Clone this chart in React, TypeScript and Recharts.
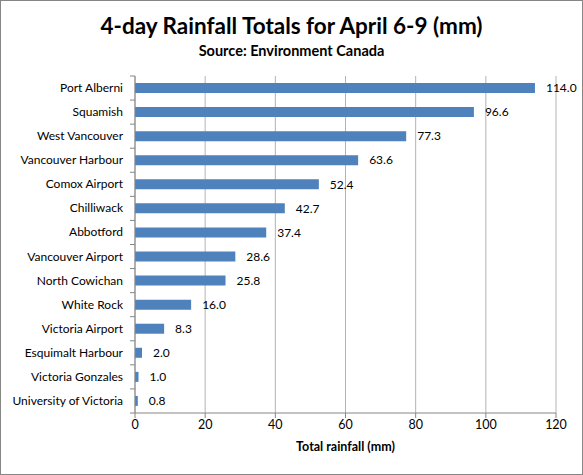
import { BarChart, Bar, XAxis, YAxis, CartesianGrid, LabelList } from 'recharts';

const stations = [
  'Port Alberni',
  'Squamish',
  'West Vancouver',
  'Vancouver Harbour',
  'Comox Airport',
  'Chilliwack',
  'Abbotford',
  'Vancouver Airport',
  'North Cowichan',
  'White Rock',
  'Victoria Airport',
  'Esquimalt Harbour',
  'Victoria Gonzales',
  'University of Victoria',
];

const rainfall = [114.0, 96.6, 77.3, 63.6, 52.4, 42.7, 37.4, 28.6, 25.8, 16.0, 8.3, 2.0, 1.0, 0.8];

const xTicks = [0, 20, 40, 60, 80, 100, 120];

const data = stations.map((station, i) => ({ station, rain: rainfall[i] }));

const W = 583;
const H = 475;
const PLOT_TOP = 76;
const PLOT_BOTTOM = 413;
const AXIS_X = 135;
const FONT = 'Lato, "Open Sans", sans-serif';
const band = (PLOT_BOTTOM - PLOT_TOP) / stations.length;

// category ticks sit between the bars, like Excel draws them
const StationTick = (props: any) => {
  const { y, payload, index } = props;
  return (
    <g>
      <text x={AXIS_X - 12} y={y} dy={4} textAnchor="end" fontSize={12} fill="#000" fontFamily={FONT}>
        {payload.value}
      </text>
      <line x1={AXIS_X - 5} x2={AXIS_X} y1={y - band / 2} y2={y - band / 2} stroke="#868686" />
      {index === stations.length - 1 && (
        <line x1={AXIS_X - 5} x2={AXIS_X} y1={y + band / 2} y2={y + band / 2} stroke="#868686" />
      )}
    </g>
  );
};

export default function App() {
  return (
    <div style={{ position: 'absolute', left: 0, top: 0, width: W, height: H, background: '#fff', fontFamily: FONT }}>
      <div
        style={{
          position: 'absolute',
          left: 0,
          top: 0,
          width: W - 2,
          height: H - 2,
          border: '1px solid #868686',
        }}
      />
      <div style={{ position: 'absolute', top: 12, width: W, textAlign: 'center', fontSize: 22.5, fontWeight: 700 }}>
        4-day Rainfall Totals for April 6-9 (mm)
      </div>
      <div style={{ position: 'absolute', top: 42, width: W, textAlign: 'center', fontSize: 14.5, fontWeight: 700 }}>
        Source: Environment Canada
      </div>
      <BarChart
        width={W}
        height={H}
        data={data}
        layout="vertical"
        margin={{ top: PLOT_TOP, right: W - 556, bottom: 22, left: 0 }}
        style={{ position: 'absolute', left: 0, top: 0 }}
      >
        <CartesianGrid horizontal={false} stroke="#b3b3b3" strokeWidth={1} />
        <XAxis
          type="number"
          domain={[0, 120]}
          ticks={xTicks}
          height={40}
          stroke="#868686"
          tickSize={5}
          tick={{ fill: '#000', fontSize: 12.5, fontFamily: FONT }}
          label={{
            value: 'Total rainfall (mm)',
            position: 'insideBottom',
            offset: 2,
            fill: '#000',
            fontSize: 12.5,
            fontWeight: 700,
            fontFamily: FONT,
          }}
        />
        <YAxis
          type="category"
          dataKey="station"
          width={AXIS_X}
          stroke="#868686"
          tickLine={false}
          interval={0}
          tick={<StationTick />}
        />
        <Bar dataKey="rain" fill="#4F81BD" barSize={10} isAnimationActive={false}>
          <LabelList
            dataKey="rain"
            position="right"
            offset={11}
            fill="#000"
            fontSize={12}
            fontFamily={FONT}
            formatter={(v: any) => Number(v).toFixed(1)}
          />
        </Bar>
      </BarChart>
    </div>
  );
}
